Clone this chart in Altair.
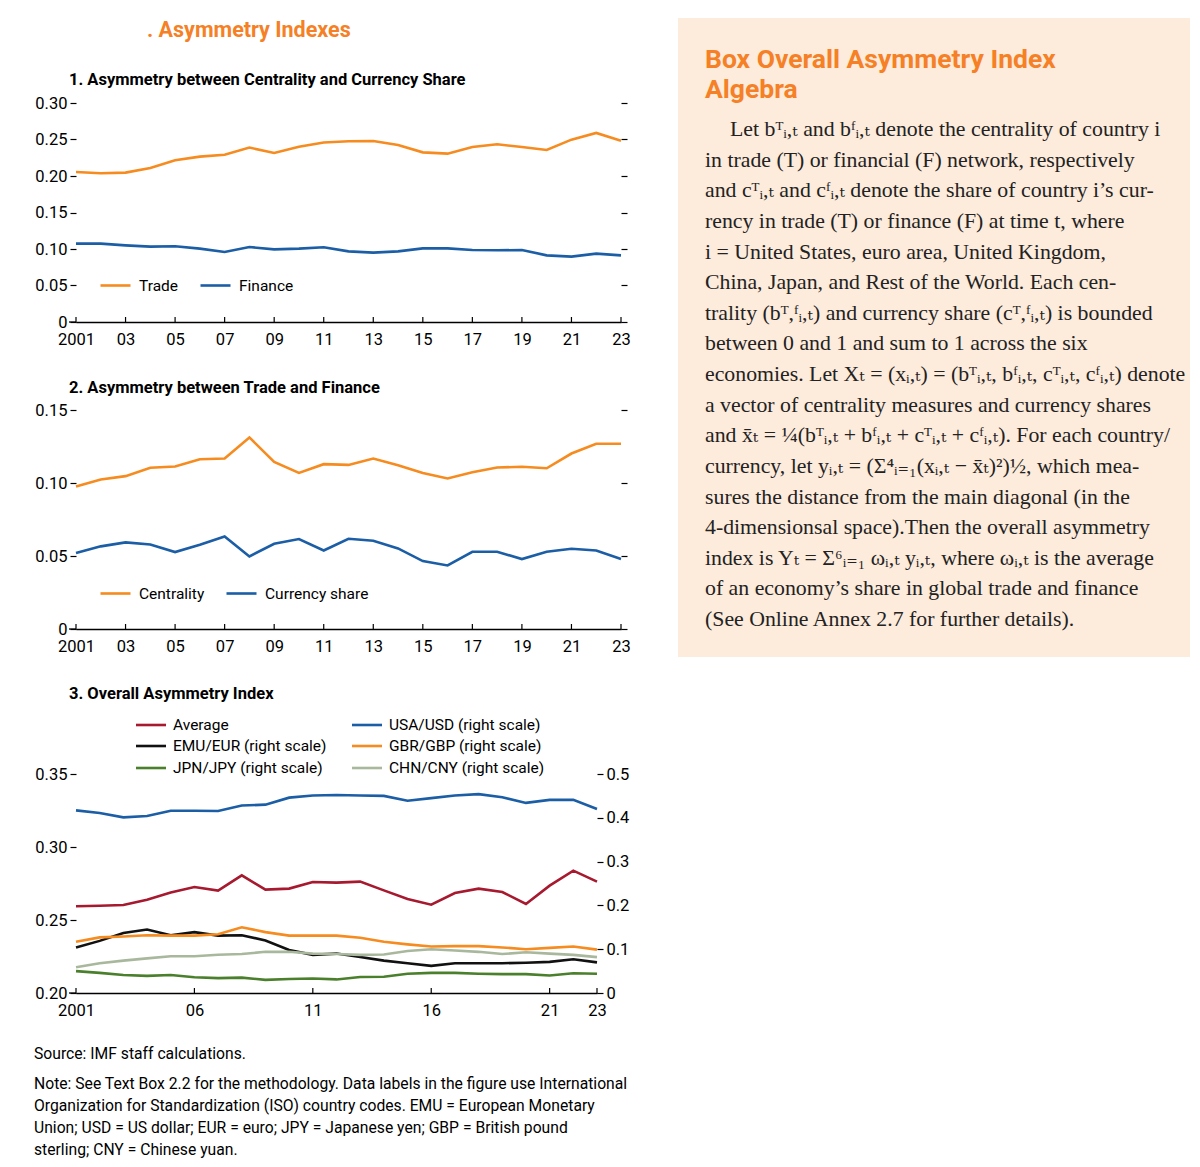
import altair as alt
import pandas as pd

# ---------------- data ----------------
years = list(range(2001, 2024))

# Panel 1: Asymmetry between centrality and currency share
trade = [0.2055, 0.2037, 0.2046, 0.2110, 0.2215, 0.2265, 0.2290, 0.2390, 0.2315, 0.2400,
         0.2460, 0.2475, 0.2480, 0.2425, 0.2324, 0.2306, 0.2397, 0.2434, 0.2397, 0.2356,
         0.2498, 0.2590, 0.2484]
finance = [0.1073, 0.1073, 0.1050, 0.1032, 0.1037, 0.1005, 0.0959, 0.1027, 0.0995, 0.1005,
           0.1023, 0.0968, 0.0950, 0.0968, 0.1009, 0.1009, 0.0986, 0.0982, 0.0986, 0.0913,
           0.0895, 0.0936, 0.0913]

# Panel 2: Asymmetry between trade and finance
centrality = [0.0976, 0.1024, 0.1047, 0.1104, 0.1113, 0.1163, 0.1168, 0.1312, 0.1145, 0.1069,
              0.1129, 0.1124, 0.1168, 0.1122, 0.1069, 0.1031, 0.1074, 0.1106, 0.1111, 0.1101,
              0.1202, 0.1269, 0.1269]
currency_share = [0.0520, 0.0566, 0.0593, 0.0579, 0.0527, 0.0577, 0.0634, 0.0497, 0.0584, 0.0616,
                  0.0538, 0.0618, 0.0605, 0.0552, 0.0465, 0.0435, 0.0529, 0.0529, 0.0479, 0.0529,
                  0.0550, 0.0538, 0.0479]

# Panel 3: Overall asymmetry index
average = [0.2594, 0.2598, 0.2603, 0.2639, 0.2689, 0.2726, 0.2701, 0.2806, 0.2708, 0.2715,
           0.2760, 0.2756, 0.2763, 0.2703, 0.2644, 0.2605, 0.2685, 0.2715, 0.2692, 0.2610,
           0.2735, 0.2838, 0.2763]
usa_usd = [0.417, 0.411, 0.401, 0.404, 0.416, 0.416, 0.4155, 0.428, 0.430, 0.446,
           0.451, 0.452, 0.451, 0.450, 0.439, 0.445, 0.451, 0.454, 0.447, 0.434,
           0.441, 0.441, 0.420]
emu_eur = [0.104, 0.119, 0.137, 0.145, 0.132, 0.139, 0.131, 0.132, 0.120, 0.098,
           0.087, 0.090, 0.082, 0.074, 0.068, 0.062, 0.068, 0.068, 0.068, 0.069,
           0.071, 0.077, 0.070]
gbr_gbp = [0.117, 0.127, 0.129, 0.132, 0.131, 0.131, 0.134, 0.150, 0.139, 0.131,
           0.131, 0.131, 0.126, 0.117, 0.111, 0.106, 0.107, 0.107, 0.104, 0.100,
           0.103, 0.106, 0.099]
jpn_jpy = [0.050, 0.046, 0.041, 0.039, 0.041, 0.036, 0.034, 0.035, 0.030, 0.032,
           0.033, 0.031, 0.0365, 0.037, 0.044, 0.046, 0.046, 0.044, 0.043, 0.043,
           0.040, 0.045, 0.044]
chn_cny = [0.059, 0.068, 0.074, 0.079, 0.084, 0.084, 0.0875, 0.089, 0.094, 0.094,
           0.090, 0.089, 0.087, 0.088, 0.096, 0.100, 0.097, 0.094, 0.089, 0.093,
           0.090, 0.087, 0.082]

main_title = ". Asymmetry Indexes"
panel_titles = ["1. Asymmetry between Centrality and Currency Share",
                "2. Asymmetry between Trade and Finance",
                "3. Overall Asymmetry Index"]
series3 = ["Average", "USA/USD (right scale)", "EMU/EUR (right scale)",
           "GBR/GBP (right scale)", "JPN/JPY (right scale)", "CHN/CNY (right scale)"]
note_lines = ["Source: IMF staff calculations.",
              "Note: See Text Box 2.2 for the methodology. Data labels in the figure use International",
              "Organization for Standardization (ISO) country codes. EMU = European Monetary",
              "Union; USD = US dollar; EUR = euro; JPY = Japanese yen; GBP = British pound",
              "sterling; CNY = Chinese yuan."]
box_title = ["Box Overall Asymmetry Index", "Algebra"]
box_lines = [
    "Let bᵀᵢ,ₜ and bᶠᵢ,ₜ denote the centrality of country i",
    "in trade (T) or financial (F) network, respectively",
    "and cᵀᵢ,ₜ and cᶠᵢ,ₜ denote the share of country i’s cur-",
    "rency in trade (T) or finance (F) at time t, where",
    "i = United States, euro area, United Kingdom,",
    "China, Japan, and Rest of the World. Each cen-",
    "trality (bᵀ,ᶠᵢ,ₜ) and currency share (cᵀ,ᶠᵢ,ₜ) is bounded",
    "between 0 and 1 and sum to 1 across the six",
    "economies. Let Xₜ = (xᵢ,ₜ) = (bᵀᵢ,ₜ, bᶠᵢ,ₜ, cᵀᵢ,ₜ, cᶠᵢ,ₜ) denote",
    "a vector of centrality measures and currency shares",
    "and x̄ₜ = ¼(bᵀᵢ,ₜ + bᶠᵢ,ₜ + cᵀᵢ,ₜ + cᶠᵢ,ₜ). For each country/",
    "currency, let yᵢ,ₜ = (Σ⁴ᵢ₌₁(xᵢ,ₜ − x̄ₜ)²)½, which mea-",
    "sures the distance from the main diagonal (in the",
    "4-dimensionsal space).Then the overall asymmetry",
    "index is Yₜ = Σ⁶ᵢ₌₁ ωᵢ,ₜ yᵢ,ₜ, where ωᵢ,ₜ is the average",
    "of an economy’s share in global trade and finance",
    "(See Online Annex 2.7 for further details).",
]

# ---------------- style ----------------
ORANGE = "#F68B1F"
BLUE = "#1B5EA6"
RED = "#A6192E"
BLACK = "#111111"
GREEN = "#4A7F2C"
LIGHT = "#A9B89C"
BOX_BG = "#FDEBDC"
TITLE_OR = "#F58025"
FONT = "Roboto, Liberation Sans, sans-serif"
SERIF = "Liberation Serif, DejaVu Serif, serif"
LAB = 16.5    # axis label size
LEG = 15.5    # legend label size
COLORS3 = [RED, BLUE, BLACK, ORANGE, GREEN, LIGHT]

W, H = 545, 219
W3, H3, TOP3 = 521, 276, 57
NOVIEW = alt.ViewBackground(stroke="transparent", strokeWidth=0)


def long_df(d):
    rows = []
    for name, vals in d.items():
        for yr, v in zip(years, vals):
            rows.append({"year": yr, "series": name, "value": v})
    return pd.DataFrame(rows)


def xaxis(values):
    return alt.Axis(values=values, title=None, grid=False, ticks=False, domain=True,
                    domainColor="black", domainWidth=1.3, labelFont=FONT, labelFontSize=LAB,
                    labelColor="black", labelPadding=9, labelFlush=False,
                    labelExpr="datum.value == 2001 ? '2001' : substring(toString(datum.value), 2, 4)")


def yaxis(values, orient="left", labels=True, fmt=".2f"):
    return alt.Axis(values=values, orient=orient, title=None, grid=False, domain=False,
                    ticks=True, tickSize=6, tickColor="black", tickWidth=1.2, labels=labels,
                    labelFont=FONT, labelFontSize=LAB, labelColor="black", labelPadding=3,
                    labelExpr=f"datum.value == 0 ? '0' : format(datum.value, '{fmt}')")


def legend(x, y):
    return alt.Legend(orient="none", legendX=x, legendY=y, direction="horizontal", title=None,
                      symbolType="stroke", symbolSize=900, symbolStrokeWidth=2.6,
                      labelFont=FONT, labelFontSize=LEG, labelColor="black", labelOffset=7,
                      columnPadding=16, padding=0, labelLimit=400)


def text_layer(texts, x, ys, size, weight="normal", color="black", font=FONT):
    df = pd.DataFrame({"t": texts, "k": list(range(len(texts)))})
    layers = []
    for k, yy in enumerate(ys):
        xx = x[k] if isinstance(x, list) else x
        layers.append(
            alt.Chart(df).transform_filter(alt.datum.k == k).mark_text(
                align="left", baseline="middle", font=font, fontSize=size,
                fontWeight=weight, color=color
            ).encode(text="t:N", x=alt.value(xx), y=alt.value(yy))
        )
    return layers


def tick_rules(values, xscale, xax, h):
    ticks = alt.Chart(pd.DataFrame({"year": values})).mark_rule(
        color="black", strokeWidth=1.2).encode(
        x=alt.X("year:Q", scale=xscale, axis=xax),
        y=alt.value(h + 1), y2=alt.value(h - 5))
    # small extension of the baseline to the left of the first year
    ext = alt.Chart(pd.DataFrame({"a": [0]})).mark_rule(color="black", strokeWidth=1.3).encode(
        x=alt.value(-7), x2=alt.value(0), y=alt.value(h))
    return [ticks, ext]


def two_series_panel(names, a, b, ymax, yvals, title, title_y, leg_y, extra=None):
    df = long_df({names[0]: a, names[1]: b})
    xs = alt.Scale(domain=[2001, 2023], nice=False, zero=False)
    ys = alt.Scale(domain=[0, ymax], nice=False)
    tv = list(range(2001, 2024, 2))
    xax = xaxis(tv)
    lines = alt.Chart(df).mark_line(strokeWidth=2.6).encode(
        x=alt.X("year:Q", scale=xs, axis=xax),
        y=alt.Y("value:Q", scale=ys, axis=yaxis(yvals)),
        color=alt.Color("series:N", scale=alt.Scale(domain=names, range=[ORANGE, BLUE]),
                        legend=legend(23, leg_y)),
        detail="series:N",
    )
    right = alt.Chart(df).mark_line(opacity=0).encode(
        x=alt.X("year:Q", scale=xs, axis=xax),
        y=alt.Y("value:Q", scale=ys, axis=yaxis(yvals, orient="right", labels=False)),
        detail="series:N",
    )
    layers = []
    if extra:
        layers += extra
    layers += [lines, right] + tick_rules(tv, xs, xax, H)
    layers += text_layer([title], -7, [title_y], 16.5, weight="bold")
    return alt.layer(*layers).resolve_scale(y="independent").properties(
        width=W, height=H, view=NOVIEW)


# ---- text box (drawn inside panel 1's view, to the right of the plot) ----
BX0, BX1 = 602, 1114
bg = alt.Chart(pd.DataFrame({"a": [0]})).mark_rect(color=BOX_BG).encode(
    x=alt.value(BX0), x2=alt.value(BX1), y=alt.value(-85), y2=alt.value(554))
box_layers = [bg]
box_layers += text_layer(box_title, BX0 + 27, [-43, -13], 26.5, weight="bold", color=TITLE_OR)
bdf = pd.DataFrame({"i": list(range(len(box_lines))), "t": box_lines})
yscale_box = alt.Scale(domain=[0, len(box_lines) - 1], range=[26, 516])
for cond, xx in [(alt.datum.i == 0, BX0 + 52), (alt.datum.i > 0, BX0 + 27)]:
    box_layers.append(
        alt.Chart(bdf).transform_filter(cond).mark_text(
            align="left", baseline="middle", font=SERIF, fontSize=21.8, color="#222222"
        ).encode(text="t:N", x=alt.value(xx), y=alt.Y("i:Q", scale=yscale_box, axis=None))
    )
box_layers += text_layer([main_title], 71, [-72], 21.5, weight="bold", color=TITLE_OR)

p1 = two_series_panel(["Trade", "Finance"], trade, finance, 0.30,
                      [0, 0.05, 0.10, 0.15, 0.20, 0.25, 0.30], panel_titles[0], -23, 166,
                      extra=box_layers)
p2 = two_series_panel(["Centrality", "Currency share"], centrality, currency_share, 0.15,
                      [0, 0.05, 0.10, 0.15], panel_titles[1], -22, 167)

# ---- Panel 3 ----
xs3 = alt.Scale(domain=[2001, 2023], nice=False, zero=False)
tv3 = [2001, 2006, 2011, 2016, 2021, 2023]
xax3 = xaxis(tv3)
cscale = alt.Scale(domain=series3, range=COLORS3)
df_avg = long_df({series3[0]: average})
df_right = long_df({series3[1]: usa_usd, series3[2]: emu_eur, series3[3]: gbr_gbp,
                    series3[4]: jpn_jpy, series3[5]: chn_cny})
right3 = alt.Chart(df_right).mark_line(strokeWidth=2.6).encode(
    x=alt.X("year:Q", scale=xs3, axis=xax3),
    y=alt.Y("value:Q", scale=alt.Scale(domain=[0, 0.5], nice=False, range=[H3, TOP3]),
            axis=yaxis([0, 0.1, 0.2, 0.3, 0.4, 0.5], orient="right", fmt=".1f")),
    color=alt.Color("series:N", scale=cscale, legend=None),
    detail="series:N",
)
avg3 = alt.Chart(df_avg).mark_line(strokeWidth=2.6).encode(
    x=alt.X("year:Q", scale=xs3, axis=xax3),
    y=alt.Y("value:Q", scale=alt.Scale(domain=[0.20, 0.35], nice=False, zero=False,
                                       range=[H3, TOP3]),
            axis=yaxis([0.20, 0.25, 0.30, 0.35], orient="left")),
    color=alt.Color("series:N", scale=cscale, legend=None),
    detail="series:N",
)
layers3 = [avg3, right3] + tick_rules(tv3, xs3, xax3, H3)

# legend of panel 3: 2 columns x 3 rows (row-major order of series3)
leg_rows = [8, 29, 51]
leg_cols = [60, 276]
ldf = pd.DataFrame({"t": series3, "k": list(range(len(series3)))})
for k, (name, col) in enumerate(zip(series3, COLORS3)):
    lx, ly = leg_cols[k % 2], leg_rows[k // 2]
    layers3.append(
        alt.Chart(ldf).transform_filter(alt.datum.k == k).mark_rule(
            color=col, strokeWidth=2.6).encode(
            x=alt.value(lx), x2=alt.value(lx + 30), y=alt.value(ly))
    )
    layers3.append(
        alt.Chart(ldf).transform_filter(alt.datum.k == k).mark_text(
            align="left", baseline="middle", font=FONT, fontSize=LEG, color="black").encode(
            text="t:N", x=alt.value(lx + 37), y=alt.value(ly))
    )

layers3 += text_layer([panel_titles[2]], -7, [-23], 16.5, weight="bold")
layers3 += text_layer(note_lines, -42, [337, 367, 389, 411, 433], 15.7)
p3 = alt.layer(*layers3).resolve_scale(y="independent").properties(
    width=W3, height=H3, view=NOVIEW)

chart = alt.vconcat(p1, p2, p3, spacing=88, bounds="flush").resolve_scale(
    color="independent"
).properties(
    padding={"left": 26, "top": 10, "right": 0, "bottom": 0}
).configure_view(stroke="transparent", strokeWidth=0).configure(background="white")

chart.save("out.html", embed_options={"renderer": "svg", "actions": False})
